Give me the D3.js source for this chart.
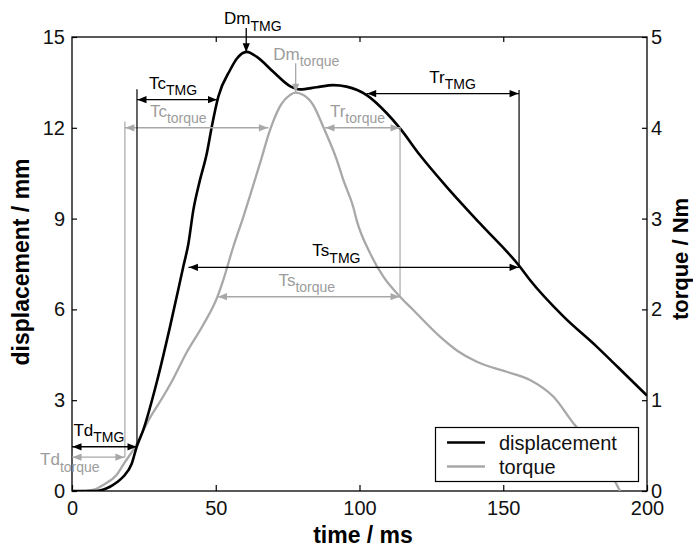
<!DOCTYPE html>
<html>
<head>
<meta charset="utf-8">
<script src="https://cdn.jsdelivr.net/npm/d3@7"></script>
<style>
  body { margin: 0; background: #fff; }
  svg text { font-family: "Liberation Sans", Arial, Helvetica, sans-serif; }
</style>
</head>
<body>
<svg id="chart" width="693" height="549"></svg>
<script>
// ---- Displacement (TMG) signal: time in ms, displacement in mm
const dispTime = [0, 5, 8.6, 11, 13.2, 15.5, 17.8, 20.8, 22.5, 24.8, 29.5, 34.1, 38.7, 40.5, 42.2,
  44.5, 46.9, 48.6, 50.9, 55, 57.3, 60.8, 64.2, 70, 75.8, 79.3, 85.1, 90.9, 95.5, 102.5, 109.5,
  114.1, 121, 130.3, 141.9, 155.8, 159.3, 171, 182.5, 190, 200];
const dispMm = [0, 0, 0, 0.05, 0.14, 0.28, 0.47, 0.91, 1.46, 2.02, 3.6, 5.43, 7.41, 8.18, 9.28,
  10.27, 11.16, 12.03, 13.03, 13.91, 14.28, 14.51, 14.35, 13.85, 13.38, 13.27, 13.34, 13.41, 13.36, 13.08, 12.48,
  11.98, 11.1, 10.05, 8.84, 7.41, 6.97, 5.76, 4.77, 4.08, 3.15];

// ---- Torque signal: time in ms, torque in Nm
const torqueTime = [5, 8, 10.9, 15.5, 18.4, 20.2, 22.5, 24.8, 27, 30.6, 35, 40, 45.7, 50.6, 52.6,
  56.1, 59.6, 61.9, 65.4, 68.9, 72.3, 75.8, 77.6, 80.5, 83.9, 87.4, 92.1, 94.4, 97.8, 99, 103.7,
  108.3, 114.1, 118.7, 128, 134, 140.8, 151.2, 159.3, 167.4, 174.4, 180, 185, 188.9, 190.6];
const torqueNm = [0, 0.017, 0.067, 0.177, 0.317, 0.4, 0.517, 0.667, 0.8, 0.983, 1.223, 1.533, 1.833, 2.14, 2.323,
  2.69, 3.02, 3.25, 3.61, 3.977, 4.233, 4.36, 4.387, 4.36, 4.25, 4.01, 3.647, 3.423, 3.13, 2.983, 2.617,
  2.36, 2.14, 1.993, 1.7, 1.545, 1.423, 1.313, 1.223, 1.04, 0.747, 0.533, 0.3, 0.103, 0];

// ---- Axis ticks
const timeTicks = [0, 50, 100, 150, 200];
const dispTicks = [0, 3, 6, 9, 12, 15];
const torqueTicks = [0, 1, 2, 3, 4, 5];

// ---- Time parameters (delay, contraction, sustain, relaxation)
const tmgIntervals = [
  { name: "Td", from: 0,     to: 22.6,  level: 1.46,  labelAt: 0.5 },
  { name: "Tc", from: 22.6,  to: 50.6,  level: 12.93, labelAt: 26.8 },
  { name: "Ts", from: 40.5,  to: 155.5, level: 7.39,  labelAt: 83.6 },
  { name: "Tr", from: 102.5, to: 155.5, level: 13.13, labelAt: 124.3 }
];
const torqueIntervals = [
  { name: "Td", from: 0,    to: 18.4,  level: 0.373, labelAt: -11.1, below: true },
  { name: "Tc", from: 18.4, to: 68.3,  level: 4.0,   labelAt: 27.1 },
  { name: "Ts", from: 50.6, to: 114.1, level: 2.14,  labelAt: 71.8 },
  { name: "Tr", from: 88,   to: 114.1, level: 4.0,   labelAt: 89.7 }
];
const tmgGuides = [
  { at: 22.6, from: 1.46, to: 13.27 },
  { at: 155.5, from: 7.39, to: 13.25 }
];
const torqueGuides = [
  { at: 18.4, from: 0.373, to: 4.07 },
  { at: 114.1, from: 2.14, to: 4.01 }
];
// ---- Maximum markers
const tmgPeak = { name: "Dm", at: 60.6, value: 14.5, top: 15.3, labelAt: 52.9 };
const torquePeak = { name: "Dm", at: 77.8, value: 4.387, top: 4.71, labelAt: 70.0 };

const legendLabels = ["displacement", "torque"];

// ---- Layout
const W = 693, H = 549;
const plot = { left: 72, right: 647, top: 37, bottom: 491 };
const BLACK = "#000", GREY = "#a8a8a8", GREY_TEXT = "#9c9c9c";

const svg = d3.select("#chart");
svg.append("rect").attr("width", W).attr("height", H).attr("fill", "#fff");

const x = d3.scaleLinear().domain([0, 200]).range([plot.left, plot.right]);
const yL = d3.scaleLinear().domain([0, 15]).range([plot.bottom, plot.top]);
const yR = d3.scaleLinear().domain([0, 5]).range([plot.bottom, plot.top]);

svg.append("clipPath").attr("id", "plotClip")
  .append("rect")
  .attr("x", plot.left).attr("y", plot.top)
  .attr("width", plot.right - plot.left).attr("height", plot.bottom - plot.top);

// ---- Axes (inward ticks)
function styleAxis(g) {
  g.select(".domain").remove();
  g.selectAll(".tick line").attr("stroke", BLACK).attr("stroke-width", 1.2);
  g.selectAll(".tick text").attr("font-size", 20).attr("fill", "#111")
    .attr("font-family", '"Liberation Sans", Arial, sans-serif');
}
svg.append("g").attr("transform", `translate(${plot.left},0)`)
  .call(d3.axisLeft(yL).tickValues(dispTicks).tickSize(-5).tickPadding(7).tickFormat(d3.format("d")))
  .call(styleAxis);
svg.append("g").attr("transform", `translate(${plot.right},0)`)
  .call(d3.axisRight(yR).tickValues(torqueTicks).tickSize(-5).tickPadding(4).tickFormat(d3.format("d")))
  .call(styleAxis);
svg.append("g").attr("transform", `translate(0,${plot.bottom})`)
  .call(d3.axisBottom(x).tickValues(timeTicks).tickSize(-6).tickPadding(10).tickFormat(d3.format("d")))
  .call(styleAxis);
svg.append("g").attr("transform", `translate(0,${plot.top})`)
  .call(d3.axisTop(x).tickValues(timeTicks.slice(1, -1)).tickSize(-5).tickFormat(""))
  .call(styleAxis);

// frame
svg.append("rect")
  .attr("x", plot.left).attr("y", plot.top)
  .attr("width", plot.right - plot.left).attr("height", plot.bottom - plot.top)
  .attr("fill", "none").attr("stroke", BLACK).attr("stroke-width", 1.3);

// ---- Axis titles
svg.append("text").attr("x", 363).attr("y", 543)
  .attr("text-anchor", "middle").attr("font-size", 23).attr("font-weight", "bold")
  .text("time / ms");
svg.append("text").attr("transform", "translate(29,262) rotate(-90)")
  .attr("text-anchor", "middle").attr("font-size", 23).attr("font-weight", "bold")
  .text("displacement / mm");
svg.append("text").attr("transform", "translate(688,259) rotate(-90)")
  .attr("text-anchor", "middle").attr("font-size", 22).attr("font-weight", "bold")
  .text("torque / Nm");

// ---- Helpers for annotations
function arrowHead(g, tx, ty, dir, color) {
  const L = 9, w = 3.6;
  let pts;
  if (dir === "left") pts = [[tx, ty], [tx + L, ty - w], [tx + L, ty + w]];
  else if (dir === "right") pts = [[tx, ty], [tx - L, ty - w], [tx - L, ty + w]];
  else pts = [[tx, ty], [tx - w, ty - L], [tx + w, ty - L]];
  g.append("path").attr("d", "M" + pts.map(p => p.join(",")).join("L") + "Z")
    .attr("fill", color).attr("stroke", "none");
}
function label(g, px, py, main, sub, color) {
  const t = g.append("text").attr("x", px).attr("y", py).attr("fill", color).attr("font-size", 17);
  t.append("tspan").text(main);
  t.append("tspan").attr("font-size", 14).attr("dy", 6.5).text(sub);
}
function drawAnnotations(intervals, guides, peak, yScale, color, textColor, sub) {
  const g = svg.append("g");
  guides.forEach(d => {
    g.append("line")
      .attr("x1", x(d.at)).attr("x2", x(d.at))
      .attr("y1", yScale(d.from)).attr("y2", yScale(d.to))
      .attr("stroke", color).attr("stroke-width", 1.2);
  });
  intervals.forEach(d => {
    const yy = yScale(d.level), x0 = x(d.from), x1 = x(d.to);
    g.append("line").attr("x1", x0).attr("x2", x1).attr("y1", yy).attr("y2", yy)
      .attr("stroke", color).attr("stroke-width", 1.4);
    arrowHead(g, x0 + 0.5, yy, "left", color);
    arrowHead(g, x1 - 0.5, yy, "right", color);
    label(g, x(d.labelAt), d.below ? yy + 8 : yy - 11, d.name, sub, textColor);
  });
  const px = x(peak.at), yTop = yScale(peak.top), yTip = yScale(peak.value);
  g.append("line").attr("x1", px).attr("x2", px).attr("y1", yTop).attr("y2", yTip)
    .attr("stroke", color).attr("stroke-width", 1.3);
  arrowHead(g, px, yTip, "down", color);
  label(g, x(peak.labelAt), yTop - 3.5, peak.name, sub, textColor);
}

// ---- Curves
const curves = svg.append("g").attr("clip-path", "url(#plotClip)");
const torqueLine = d3.line().x((d, i) => x(torqueTime[i])).y(d => yR(d)).curve(d3.curveMonotoneX);
const dispLine = d3.line().x((d, i) => x(dispTime[i])).y(d => yL(d)).curve(d3.curveMonotoneX);

drawAnnotations(torqueIntervals, torqueGuides, torquePeak, yR, GREY, GREY_TEXT, "torque");

curves.append("path").datum(torqueNm).attr("d", torqueLine)
  .attr("fill", "none").attr("stroke", GREY).attr("stroke-width", 2.3).attr("stroke-linejoin", "round");
curves.append("path").datum(dispMm).attr("d", dispLine)
  .attr("fill", "none").attr("stroke", BLACK).attr("stroke-width", 2.6).attr("stroke-linejoin", "round");

drawAnnotations(tmgIntervals, tmgGuides, tmgPeak, yL, BLACK, BLACK, "TMG");

// ---- Legend
const lg = svg.append("g");
lg.append("rect").attr("x", 435.5).attr("y", 427.5).attr("width", 203).attr("height", 54)
  .attr("fill", "#fff").attr("stroke", BLACK).attr("stroke-width", 1.2);
const legendColors = [BLACK, GREY];
legendLabels.forEach((name, i) => {
  const yy = 442.5 + i * 24;
  lg.append("line").attr("x1", 447).attr("x2", 485).attr("y1", yy).attr("y2", yy)
    .attr("stroke", legendColors[i]).attr("stroke-width", 2.6);
  lg.append("text").attr("x", 499).attr("y", yy + 7.5).attr("font-size", 20).attr("fill", "#111").text(name);
});
</script>
</body>
</html>
